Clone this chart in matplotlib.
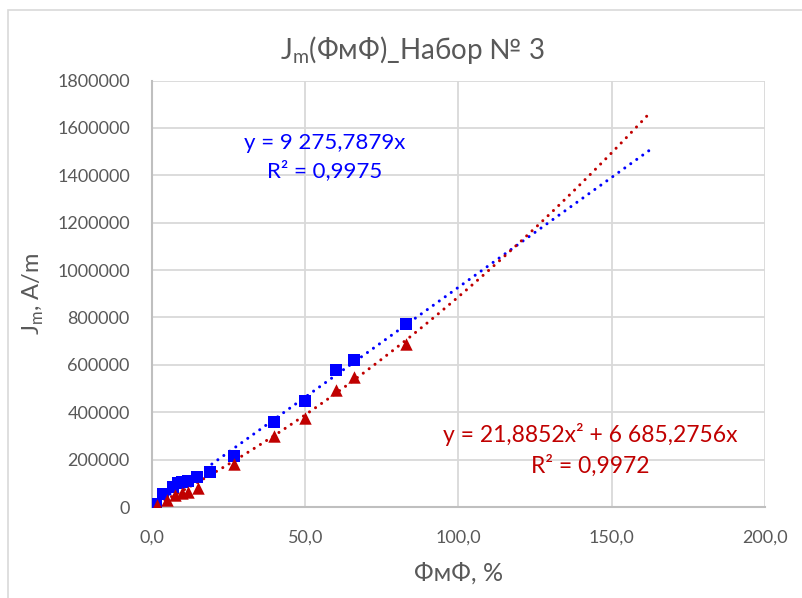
import numpy as np
import matplotlib.pyplot as plt
from matplotlib.patches import Rectangle
from matplotlib.ticker import FuncFormatter

# =====================================================
# Data
# =====================================================

blue_x = [1.2, 3.7, 7.0, 8.5, 9.7, 11.9, 14.6, 19.0, 26.9, 39.8, 49.9, 59.9, 65.9, 82.9]
blue_y = [12700, 55000, 86000, 101000, 107000, 110000, 125000, 149000,
          216000, 360000, 447000, 578000, 620000, 772000]

red_x = [1.5, 4.8, 7.5, 9.7, 11.9, 15.1, 26.9, 39.8, 49.9, 59.9, 65.9, 82.9]
red_y = [8000, 30000, 51000, 58000, 65000, 79000, 181000,
         300000, 377000, 494000, 550000, 687000]

# trendline coefficients
blue_k = 9275.7879
red_a = 21.8852
red_b = 6685.2756
trend_end = 163

x_ticks = [0, 50, 100, 150, 200]
y_ticks = [0, 200000, 400000, 600000, 800000, 1000000,
           1200000, 1400000, 1600000, 1800000]

BLUE = "#0000FF"
RED = "#C00000"
GRID = "#D9D9D9"
TEXT = "#595959"

plt.rcParams["font.family"] = ["Lato", "DejaVu Sans"]

# =====================================================
# Figure
# =====================================================

fig = plt.figure(figsize=(8.03, 5.98), dpi=100)

# chart frame
fig.patches.append(
    Rectangle((8 / 803, -0.1), 1.1, 1 - 10 / 598 + 0.1,
              transform=fig.transFigure, fill=False,
              edgecolor=GRID, linewidth=1.2)
)

ax = fig.add_axes([152 / 803, 1 - 507 / 598, 613 / 803, 426.5 / 598])

ax.set_xlim(0, 200)
ax.set_ylim(0, 1800000)
ax.set_xticks(x_ticks)
ax.set_yticks(y_ticks)

ax.xaxis.set_major_formatter(
    FuncFormatter(lambda v, _: f"{v:.1f}".replace(".", ","))
)
ax.yaxis.set_major_formatter(
    FuncFormatter(lambda v, _: f"{int(v)}")
)

ax.grid(True, color=GRID, linewidth=1.3, zorder=0)
ax.set_axisbelow(True)

for side in ["top", "right"]:
    ax.spines[side].set_visible(False)
for side in ["left", "bottom"]:
    ax.spines[side].set_color("#BFBFBF")
    ax.spines[side].set_linewidth(1.5)

ax.tick_params(length=0, labelsize=13, colors=TEXT)
ax.tick_params(axis="y", pad=16)
ax.tick_params(axis="x", pad=16)

# trendlines
tx = np.linspace(0, trend_end, 200)

ax.plot(
    tx, blue_k * tx,
    color=BLUE, linewidth=2.2,
    linestyle=(0, (0.01, 2.4)),
    dash_capstyle="round", zorder=2
)

ax.plot(
    tx, red_a * tx ** 2 + red_b * tx,
    color=RED, linewidth=2.2,
    linestyle=(0, (0.01, 2.4)),
    dash_capstyle="round", zorder=2
)

# points
ax.scatter(blue_x, blue_y, marker="s", s=70, color=BLUE, zorder=3, linewidths=0)
ax.scatter(red_x, red_y, marker="^", s=80, color=RED, zorder=4, linewidths=0)

# equations
ax.text(
    56.3, 1477000, "y = 9 275,7879x\nR² = 0,9975",
    color=BLUE, fontsize=16, ha="center", va="center",
    linespacing=1.45
)

ax.text(
    142.9, 240000, "y = 21,8852x² + 6 685,2756x\nR² = 0,9972",
    color=RED, fontsize=16.5, ha="center", va="center",
    linespacing=1.45
)

# labels
fig.text(
    0.513, 1 - 50 / 598, r"J$_\mathregular{m}$(ФмФ)_Набор № 3",
    ha="center", va="center", fontsize=20, color=TEXT
)

ax.set_xlabel("ФмФ, %", fontsize=18, color=TEXT, labelpad=12)
ax.set_ylabel(r"J$_\mathregular{m}$, A/m", fontsize=17, color=TEXT, labelpad=8)

plt.savefig("out.png", dpi=100)
